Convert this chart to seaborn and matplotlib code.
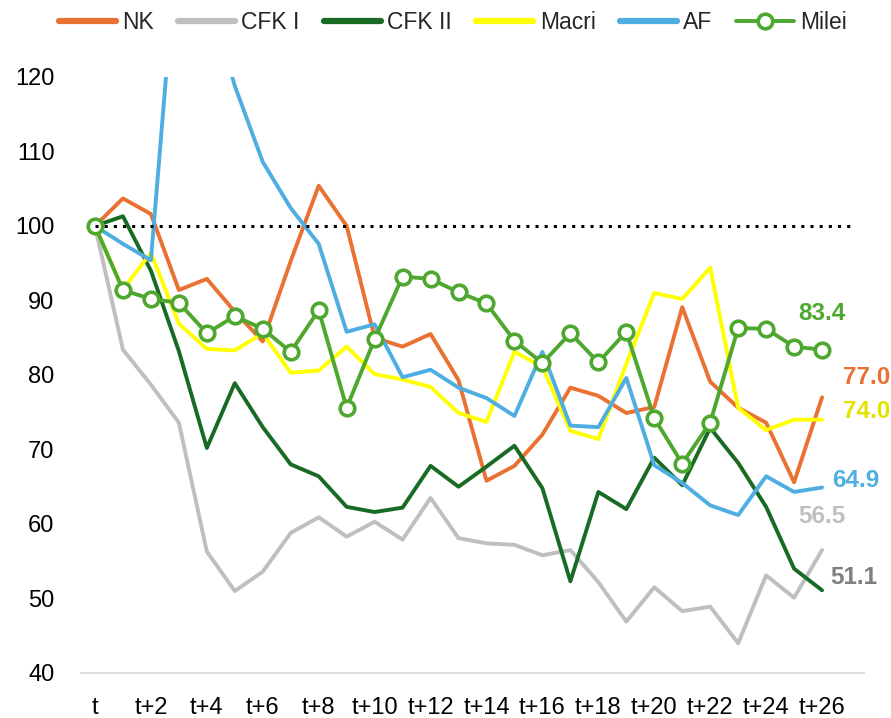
import matplotlib
matplotlib.use('Agg')
import matplotlib.pyplot as plt
from matplotlib.lines import Line2D
import seaborn as sns
import pandas as pd

# периоды: t ... t+27 (последняя категория пустая)
periods = ['t'] + [f't+{i}' for i in range(1, 28)]

nk = [100, 103.7, 101.6, 91.4, 92.9, 88.5, 84.5, 95.3, 105.4, 100.0, 85.0, 83.8, 85.5, 79.3,
      65.8, 67.8, 72.0, 78.3, 77.2, 74.9, 75.7, 89.1, 79.1, 75.6, 73.6, 65.6, 77.0]
cfk1 = [100, 83.4, 78.7, 73.6, 56.3, 51.0, 53.6, 58.8, 60.9, 58.3, 60.3, 57.9, 63.5, 58.1,
        57.4, 57.2, 55.8, 56.5, 52.2, 46.9, 51.5, 48.3, 48.9, 44.0, 53.1, 50.1, 56.5]
cfk2 = [100, 101.3, 94.0, 83.2, 70.2, 78.9, 73.0, 68.0, 66.4, 62.3, 61.6, 62.2, 67.8, 65.0,
        67.7, 70.5, 64.8, 52.3, 64.3, 62.0, 68.9, 65.2, 72.9, 68.2, 62.3, 54.0, 51.1]
macri = [100, 91.5, 96.4, 86.9, 83.5, 83.3, 85.6, 80.3, 80.6, 83.8, 80.1, 79.4, 78.4, 74.9,
         73.7, 83.1, 81.1, 72.5, 71.4, 81.5, 91.0, 90.2, 94.4, 75.6, 72.6, 74.0, 74.0]
af = [100, 97.6, 95.4, 141.0, 132.0, 118.8, 108.6, 102.4, 97.6, 85.8, 86.8, 79.7, 80.7, 78.3,
      76.9, 74.5, 83.1, 73.2, 73.0, 79.6, 67.9, 65.5, 62.5, 61.2, 66.4, 64.3, 64.9]
milei = [100, 91.4, 90.2, 89.7, 85.6, 87.9, 86.2, 83.1, 88.7, 75.6, 84.8, 93.2, 92.9, 91.1,
         89.6, 84.6, 81.6, 85.6, 81.7, 85.8, 74.2, 68.1, 73.6, 86.3, 86.2, 83.8, 83.4]
baseline = [100] * len(periods)

series = [
    ('NK', nk, '#E97132'),
    ('CFK I', cfk1, '#BFBFBF'),
    ('CFK II', cfk2, '#196B24'),
    ('Macri', macri, '#FFFF00'),
    ('AF', af, '#4EAEE2'),
    ('Milei', milei, '#4EA72E'),
]

# подписи последних значений: текст, цвет, смещение (pt), выравнивание
end_labels = {
    'NK': ('77.0', '#E97132', (15, 14), 'left'),
    'CFK I': ('56.5', '#BFBFBF', (0, 24), 'center'),
    'CFK II': ('51.1', '#7F7F7F', (6, 9), 'left'),
    'Macri': ('74.0', '#E3E300', (15, 6), 'left'),
    'AF': ('64.9', '#4EAEE2', (7, 5), 'left'),
    'Milei': ('83.4', '#4EA72E', (0, 26), 'center'),
}

sns.set_theme(style='white')
plt.rcParams['font.family'] = ['Liberation Sans', 'DejaVu Sans']

fig = plt.figure(figsize=(8.91, 7.18), dpi=100)
ax = fig.add_axes([0.0909, 0.0627, 0.8788, 0.8301])

handles = []
for name, values, color in series:
    df = pd.DataFrame({'x': range(len(values)), 'y': values})
    if name == 'Milei':
        sns.lineplot(data=df, x='x', y='y', ax=ax, color=color, lw=2.8, marker='o',
                     markersize=10.5, markerfacecolor='white', markeredgecolor=color,
                     markeredgewidth=2.6, zorder=3)
        handles.append(Line2D([], [], color=color, lw=2.8, marker='o', markersize=10.5,
                              markerfacecolor='white', markeredgecolor=color,
                              markeredgewidth=2.6))
    else:
        sns.lineplot(data=df, x='x', y='y', ax=ax, color=color, lw=2.8, zorder=2)
        handles.append(Line2D([], [], color=color, lw=4.5, solid_capstyle='round'))

    text, tcolor, offset, ha = end_labels[name]
    ax.annotate(text, xy=(len(values) - 1, values[-1]), xytext=offset,
                textcoords='offset points', ha=ha, va='center', color=tcolor,
                fontsize=17.5, fontweight='bold', annotation_clip=False)

base_df = pd.DataFrame({'x': range(len(baseline)), 'y': baseline})
sns.lineplot(data=base_df, x='x', y='y', ax=ax, color='black', lw=2.2,
             linestyle=(0, (1, 2)), zorder=4)

ax.set_xlim(-0.5, len(periods) - 0.5)
ax.set_ylim(40, 120)
ax.set_yticks(range(40, 121, 10))
ax.set_xticks(range(0, 27, 2))
ax.set_xticklabels(periods[0:27:2])
ax.tick_params(axis='both', length=0, labelsize=17, labelcolor='black')
ax.tick_params(axis='y', pad=19)
ax.tick_params(axis='x', pad=17)
ax.set_xlabel('')
ax.set_ylabel('')

sns.despine(ax=ax, left=True, top=True, right=True)
ax.spines['bottom'].set_color('#D9D9D9')
ax.spines['bottom'].set_linewidth(1.3)

leg = fig.legend(handles, [s[0] for s in series], loc='center', ncol=6,
                 bbox_to_anchor=(0.508, 0.968), frameon=False,
                 prop={'size': 16.5},
                 handlelength=2.5, handletextpad=0.27, columnspacing=1.05)

fig.savefig('out.png', dpi=100)
